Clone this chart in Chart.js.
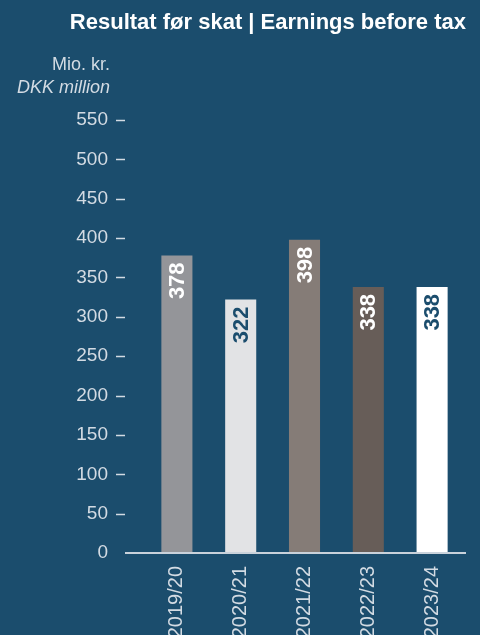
<!DOCTYPE html>
<html>
<head>
<meta charset="utf-8">
<script src="https://cdn.jsdelivr.net/npm/chart.js@4"></script>
<style>
  html, body { margin: 0; padding: 0; background: #1b4d6d; overflow: hidden; }
  #wrap { position: relative; width: 480px; height: 635px; overflow: hidden; }
  #titel {
    position: absolute; right: 14px; top: 9px;
    font: bold 22px "Liberation Sans", sans-serif;
    color: #ffffff; white-space: nowrap;
  }
  #enhed {
    position: absolute; right: 370px; top: 53px; text-align: right;
    font: 18px "Liberation Sans", sans-serif;
    color: #d3dbe3; line-height: 23px; white-space: nowrap;
  }
  #enhed i { font-style: italic; }
  canvas { position: absolute; left: 0; top: 0; }
</style>
</head>
<body>
<div id="wrap">
  <canvas id="myChart" width="480" height="700"></canvas>
  <div id="titel">Resultat før skat | Earnings before tax</div>
  <div id="enhed">Mio. kr.<br><i>DKK million</i></div>
</div>
<script>
// Data
const aar = ["2019/20", "2020/21", "2021/22", "2022/23", "2023/24"];
const resultat = [378, 322, 398, 338, 338];
const yTicks = [0, 50, 100, 150, 200, 250, 300, 350, 400, 450, 500, 550];

// Farver
const bjaelkeFarver = ["#949599", "#e2e3e5", "#857c77", "#675d58", "#ffffff"];
const tekstFarver = ["#ffffff", "#1b4d6d", "#ffffff", "#ffffff", "#1b4d6d"];
const lysTekst = "#d3dbe3";
const skrift = '"Liberation Sans", sans-serif';

// Tal inde i søjlerne, drejet 90 grader
const vaerdiLabels = {
  id: "vaerdiLabels",
  afterDatasetsDraw(chart) {
    const ctx = chart.ctx;
    const meta = chart.getDatasetMeta(0);
    meta.data.forEach((bar, i) => {
      ctx.save();
      ctx.translate(bar.x, bar.y + 7);
      ctx.rotate(-Math.PI / 2);
      ctx.font = "bold 22px " + skrift;
      ctx.fillStyle = tekstFarver[i];
      ctx.textAlign = "right";
      ctx.textBaseline = "middle";
      ctx.fillText(resultat[i], 0, 1);
      ctx.restore();
    });
  },
};

// Små streger ved y-aksen og grundlinjen
const aksestreger = {
  id: "aksestreger",
  afterDraw(chart) {
    const ctx = chart.ctx;
    const y = chart.scales.y;
    ctx.save();
    ctx.strokeStyle = lysTekst;
    ctx.lineWidth = 1.5;
    y.ticks.forEach((t) => {
      if (t.value === 0) return;
      const py = Math.round(y.getPixelForValue(t.value)) + 0.5;
      ctx.beginPath();
      ctx.moveTo(116, py);
      ctx.lineTo(125, py);
      ctx.stroke();
    });
    const by = y.getPixelForValue(0);
    ctx.lineWidth = 2;
    ctx.strokeStyle = "#c9d2db";
    ctx.beginPath();
    ctx.moveTo(125, by);
    ctx.lineTo(chart.chartArea.right + 2, by);
    ctx.stroke();
    ctx.restore();
  },
};

const ctx = document.querySelector("#myChart").getContext("2d");
const chart = new Chart(ctx, {
  type: "bar",
  data: {
    labels: aar,
    datasets: [
      {
        data: resultat,
        backgroundColor: bjaelkeFarver,
        borderWidth: 0,
        categoryPercentage: 1,
        barPercentage: 0.487,
      },
    ],
  },
  options: {
    responsive: false,
    animation: false,
    layout: { padding: { top: 120, right: 16, left: 0, bottom: 0 } },
    plugins: {
      legend: { display: false },
      tooltip: { enabled: false },
    },
    scales: {
      x: {
        grid: { display: false, drawTicks: false },
        border: { display: false },
        ticks: {
          color: lysTekst,
          font: { family: skrift, size: 20 },
          minRotation: 90,
          maxRotation: 90,
          autoSkip: false,
          padding: 13,
        },
        afterFit(scale) {
          scale.height = 147;
        },
      },
      y: {
        min: 0,
        max: 550,
        afterBuildTicks(scale) {
          scale.ticks = yTicks.map((v) => ({ value: v }));
        },
        grid: { display: false, drawTicks: false },
        border: { display: false },
        ticks: {
          color: lysTekst,
          font: { family: skrift, size: 19 },
          padding: 37,
        },
        afterFit(scale) {
          scale.width = 145;
        },
      },
    },
  },
  plugins: [vaerdiLabels, aksestreger],
});
</script>
</body>
</html>
